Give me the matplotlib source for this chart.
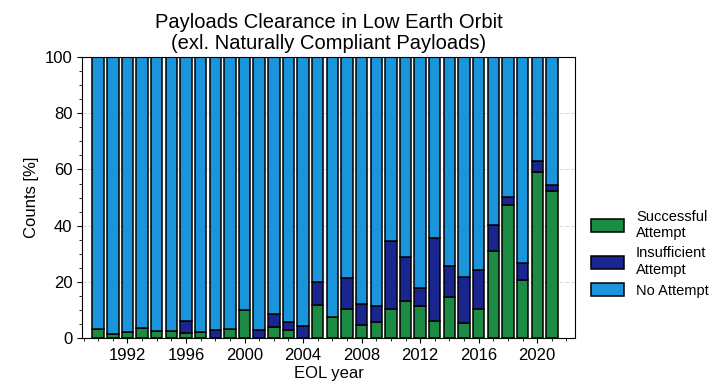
import numpy as np
import matplotlib
matplotlib.use("Agg")
import matplotlib.pyplot as plt

# ------------- data (percent of payloads per EOL year) ---------------------------------
years = list(range(1990, 2022))
successful = [3.2, 1.5, 2.3, 3.5, 2.6, 2.6, 1.8, 2.0, 0.0, 3.2,
              9.8, 0.0, 3.9, 2.9, 0.0, 11.8, 7.4, 10.3, 4.7, 5.6,
              10.3, 13.0, 11.5, 5.9, 14.6, 5.3, 10.3, 31.1, 47.4, 20.7,
              59.0, 52.5]
insufficient = [0.0, 0.0, 0.0, 0.0, 0.0, 0.0, 4.1, 0.0, 2.7, 0.0,
                0.0, 2.7, 4.7, 2.8, 4.3, 8.3, 0.0, 10.9, 7.3, 5.9,
                24.2, 16.0, 6.3, 29.7, 10.9, 16.4, 14.0, 9.0, 2.8, 6.0,
                3.9, 2.1]
no_attempt = [100 - s - i for s, i in zip(successful, insufficient)]

labels = ["Successful\nAttempt", "Insufficient\nAttempt", "No Attempt"]
colors = ["#1c8c45", "#1a2590", "#1a95dc"]

plt.rcParams['font.family'] = ['Liberation Sans', 'DejaVu Sans']

fig = plt.figure(figsize=(7.2, 3.91), dpi=100)
ax = fig.add_axes([0.114, 0.1355, 0.685, 0.7185])

x = np.array(years)
s = np.array(successful)
i = np.array(insufficient)
n = np.array(no_attempt)
w = 0.78
ax.bar(x, s, w, color=colors[0], edgecolor="black", lw=1.1, label=labels[0], zorder=2)
ax.bar(x, i, w, bottom=s, color=colors[1], edgecolor="black", lw=1.1, label=labels[1], zorder=2)
ax.bar(x, n, w, bottom=s + i, color=colors[2], edgecolor="black", lw=1.1, label=labels[2], zorder=2)

ax.set_xlim(1988.9, 2022.6)
ax.set_ylim(0, 100)
ax.set_xticks(range(1992, 2022, 4))
ax.set_xticks(range(1989, 2023), minor=True)
ax.set_yticks(range(0, 101, 20))
ax.set_yticks(range(0, 101, 5), minor=True)
ax.tick_params(labelsize=12)
ax.tick_params(which="minor", length=2.5)
ax.grid(axis="y", linestyle="--", color="#dddddd", lw=0.8, zorder=0)

ax.set_xlabel("EOL year", fontsize=12, labelpad=2)
ax.set_ylabel("Counts [%]", fontsize=12)
ax.set_title("Payloads Clearance in Low Earth Orbit\n(exl. Naturally Compliant Payloads)",
             fontsize=14.5, linespacing=1.1, pad=6)

ax.legend(loc="center left", bbox_to_anchor=(1.005, 0.3), frameon=False,
          fontsize=10.5, handlelength=2.3, handleheight=1.0, labelspacing=0.45)

fig.savefig("out.png", dpi=100)
